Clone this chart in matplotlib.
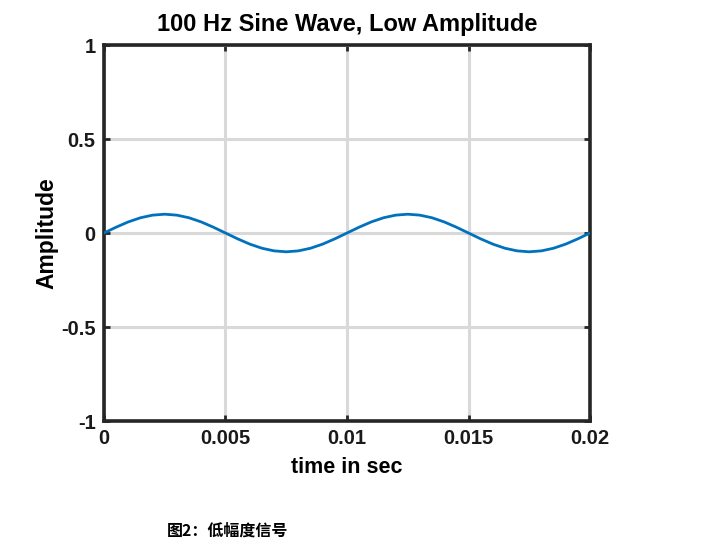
import matplotlib
matplotlib.use("Agg")
import matplotlib.pyplot as plt

plt.rcParams['font.family'] = ['Liberation Sans', 'DejaVu Sans']

# samples, every 0.0005 s
time_sec = [i * 0.0005 for i in range(41)]
amplitude = [
    0.000, 0.031, 0.059, 0.081, 0.095, 0.100, 0.095, 0.081, 0.059, 0.031,
    0.000, -0.031, -0.059, -0.081, -0.095, -0.100, -0.095, -0.081, -0.059, -0.031,
    0.000, 0.031, 0.059, 0.081, 0.095, 0.100, 0.095, 0.081, 0.059, 0.031,
    0.000, -0.031, -0.059, -0.081, -0.095, -0.100, -0.095, -0.081, -0.059, -0.031,
    0.000,
]
x_ticks = [0, 0.005, 0.01, 0.015, 0.02]
x_labels = ['0', '0.005', '0.01', '0.015', '0.02']
y_ticks = [-1, -0.5, 0, 0.5, 1]
y_labels = ['-1', '-0.5', '0', '0.5', '1']

fig = plt.figure(figsize=(7.19, 5.41), dpi=100)
ax = fig.add_axes([0.1446, 0.2218, 0.676, 0.695])

ax.plot(time_sec, amplitude, color='#0072BD', linewidth=2.0, zorder=3)

ax.set_xlim(0, 0.02)
ax.set_ylim(-1, 1)
ax.set_xticks(x_ticks)
ax.set_xticklabels(x_labels)
ax.set_yticks(y_ticks)
ax.set_yticklabels(y_labels)
ax.grid(True, color='#d9d9d9', linewidth=2.2)
ax.set_axisbelow(True)

for s in ax.spines.values():
    s.set_linewidth(2.6)
    s.set_color('#262626')
ax.tick_params(direction='in', length=4, width=2, color='#262626',
               top=True, right=True, labelsize=14.5, labelcolor='#1a1a1a', pad=6)
for lbl in ax.get_xticklabels() + ax.get_yticklabels():
    lbl.set_fontweight('bold')

ax.set_title('100 Hz Sine Wave, Low Amplitude', fontsize=17, fontweight='bold', pad=10)
ax.set_xlabel('time in sec', fontsize=15.5, fontweight='bold', labelpad=6)
ax.set_ylabel('Amplitude', fontsize=16.5, fontweight='bold', labelpad=2)

fig.text(0.232, 0.020, '图2：低幅度信号', fontsize=11.5, fontweight='bold', style='italic',
         family=['Noto Sans CJK SC', 'DejaVu Sans'], ha='left', va='center')

fig.savefig('out.png', dpi=100)
